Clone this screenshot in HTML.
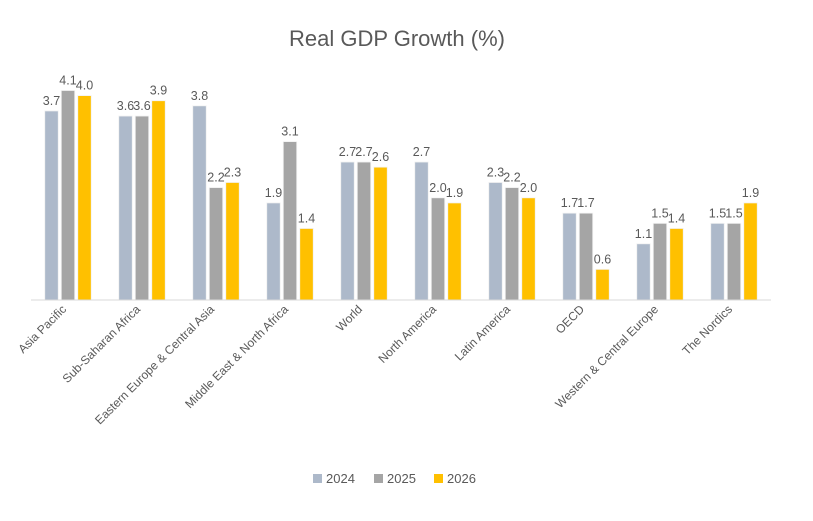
<!DOCTYPE html>
<html><head><meta charset="utf-8"><style>
body{margin:0;background:#fff;font-family:"Liberation Sans",sans-serif}
svg text{font-family:"Liberation Sans",sans-serif;fill:#595959}
</style></head><body>
<svg width="813" height="516" xmlns="http://www.w3.org/2000/svg" id="chart">
<text x="397" y="46" font-size="22" text-anchor="middle">Real GDP Growth (%)</text>
<g id="bars"></g>
<line x1="31" y1="300" x2="771" y2="300" stroke="#d9d9d9" stroke-width="1"/>
<g id="xlabels"></g>
<g id="legend"></g>
</svg>
<script>
const categories=["Asia Pacific","Sub-Saharan Africa","Eastern Europe & Central Asia","Middle East & North Africa","World","North America","Latin America","OECD","Western & Central Europe","The Nordics"];
const seriesNames=["2024","2025","2026"];
const s2024=[3.7,3.6,3.8,1.9,2.7,2.7,2.3,1.7,1.1,1.5];
const s2025=[4.1,3.6,2.2,3.1,2.7,2.0,2.2,1.7,1.5,1.5];
const s2026=[4.0,3.9,2.3,1.4,2.6,1.9,2.0,0.6,1.4,1.9];
const series=[s2024,s2025,s2026];
const colors=["#adb9ca","#a5a5a5","#ffc000"];
const NS="http://www.w3.org/2000/svg";
const x0=31,groupW=74,baseY=300,scale=51.1,barW=13.5,pitch=16.5;
const yPos=v=>baseY-v*scale;
const gx=i=>x0+groupW*i+groupW/2;
const bars=document.getElementById('bars');
series.forEach((s,k)=>{
 s.forEach((v,i)=>{
  const cx=gx(i)+(k-1)*pitch;
  const r=document.createElementNS(NS,'rect');
  r.setAttribute('x',cx-barW/2);r.setAttribute('y',yPos(v));
  r.setAttribute('width',barW);r.setAttribute('height',baseY-yPos(v));
  r.setAttribute('fill',colors[k]);r.setAttribute('stroke','#f2f2f2');r.setAttribute('stroke-width','0.8');
  
  
  bars.appendChild(r);
  const t=document.createElementNS(NS,'text');
  t.setAttribute('x',cx);t.setAttribute('y',yPos(v)-6);t.setAttribute('font-size','12.5');t.setAttribute('text-anchor','middle');
  t.textContent=v.toFixed(1);
  
  
  bars.appendChild(t);
 });
});
const xl=document.getElementById('xlabels');
categories.forEach((c,i)=>{
 const t=document.createElementNS(NS,'text');
 const x=gx(i)-1,y=310;
 t.setAttribute('x',x);t.setAttribute('y',y);t.setAttribute('font-size','12');t.setAttribute('text-anchor','end');
 t.setAttribute('transform','rotate(-45 '+x+' '+y+')');
 t.textContent=c;
 
 
 xl.appendChild(t);
});
const lg=document.getElementById('legend');
const lx=[313,374,434];
seriesNames.forEach((n,k)=>{
 const r=document.createElementNS(NS,'rect');
 r.setAttribute('x',lx[k]);r.setAttribute('y',474);r.setAttribute('width',9);r.setAttribute('height',9);r.setAttribute('fill',colors[k]);
 
 
 lg.appendChild(r);
 const t=document.createElementNS(NS,'text');
 t.setAttribute('x',lx[k]+13);t.setAttribute('y',483);t.setAttribute('font-size','13');
 t.textContent=n;
 
 
 lg.appendChild(t);
});
</script>
</body></html>
